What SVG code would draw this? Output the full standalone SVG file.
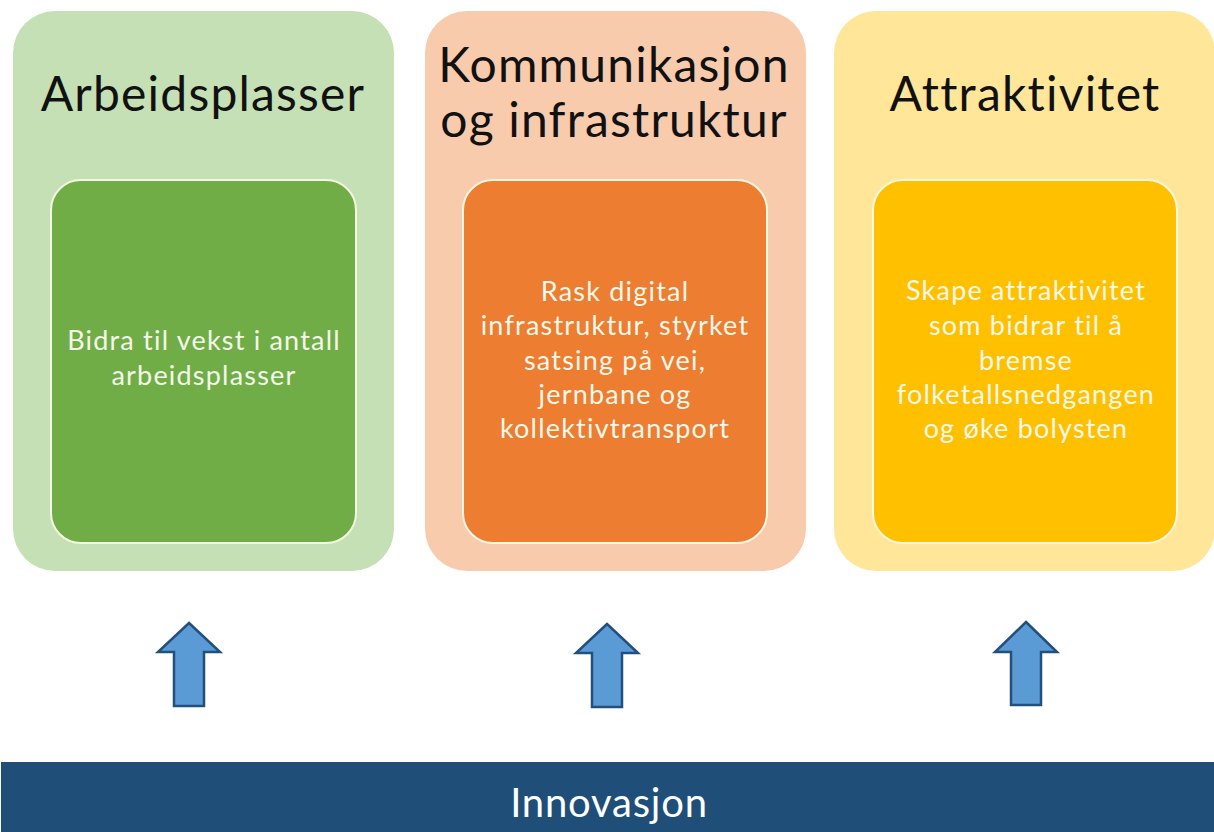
<svg xmlns="http://www.w3.org/2000/svg" width="1214" height="832" viewBox="0 0 1214 832">
<style>
.title{font-family:Lato,"Open Sans",sans-serif;font-size:48px;letter-spacing:1.2px;fill:#111;text-anchor:middle;font-variant-ligatures:none}
.body{font-family:Lato,"Open Sans",sans-serif;font-size:27px;letter-spacing:1.2px;fill:#f3f8ea;text-anchor:middle;font-variant-ligatures:none}
.inner{stroke:#f4f7e2;stroke-width:2}
.arrow{fill:#5b9bd5;stroke:#224f7c;stroke-width:2.5;stroke-linejoin:miter}
.bartext{font-family:Lato,"Open Sans",sans-serif;font-size:40px;letter-spacing:0.8px;fill:#ffffff;text-anchor:middle}
</style>
<rect width="1214" height="832" fill="#ffffff"/>
<g id="node-arbeidsplasser">
<rect x="13" y="11" width="381" height="560" rx="42" fill="#c5e0b4"/>
<text class="title" x="203" y="111">Arbeidsplasser</text>
<rect class="inner" x="51" y="180" width="305" height="363" rx="30" fill="#70ad47"/>
<text class="body" x="204" y="350">Bidra til vekst i antall</text>
<text class="body" x="204" y="385">arbeidsplasser</text>
</g>
<g id="node-kommunikasjon">
<rect x="425" y="11" width="381" height="560" rx="42" fill="#f8cbad"/>
<text class="title" x="614" y="82">Kommunikasjon</text>
<text class="title" x="614" y="137">og infrastruktur</text>
<rect class="inner" x="463" y="180" width="304" height="363" rx="30" fill="#ed7d31"/>
<text class="body" x="615" y="301">Rask digital</text>
<text class="body" x="615" y="335">infrastruktur, styrket</text>
<text class="body" x="615" y="370">satsing på vei,</text>
<text class="body" x="615" y="404">jernbane og</text>
<text class="body" x="615" y="438">kollektivtransport</text>
</g>
<g id="node-attraktivitet">
<rect x="834" y="11" width="381" height="560" rx="42" fill="#ffe699"/>
<text class="title" x="1025" y="111">Attraktivitet</text>
<rect class="inner" x="873" y="180" width="304" height="363" rx="30" fill="#ffc000"/>
<text class="body" x="1026" y="300">Skape attraktivitet</text>
<text class="body" x="1026" y="335">som bidrar til å</text>
<text class="body" x="1026" y="370">bremse</text>
<text class="body" x="1026" y="404">folketallsnedgangen</text>
<text class="body" x="1026" y="438">og øke bolysten</text>
</g>
<g id="connectors">
<polygon class="arrow" points="189,623 220,652 204,652 204,706 174,706 174,652 158,652"/>
<polygon class="arrow" points="607,624 638,653 622,653 622,707 592,707 592,653 576,653"/>
<polygon class="arrow" points="1026,622 1057,652 1041,652 1041,705 1011,705 1011,652 995,652"/>
</g>
<g id="node-innovasjon">
<rect x="1" y="762" width="1213" height="70" fill="#1f4e79"/>
<text class="bartext" x="609" y="817">Innovasjon</text>
</g>
</svg>
